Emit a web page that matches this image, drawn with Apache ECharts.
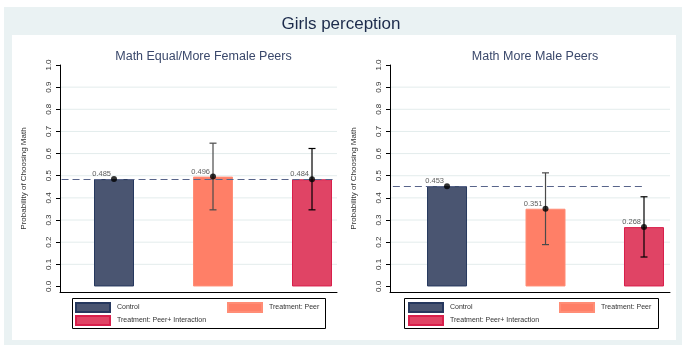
<!DOCTYPE html>
<html>
<head>
<meta charset="utf-8">
<script src="https://cdn.jsdelivr.net/npm/echarts@6/dist/echarts.min.js"></script>
<style>
  html, body { margin: 0; padding: 0; background: #ffffff; }
  #main { width: 682px; height: 345px; }
</style>
</head>
<body>
<div id="main"></div>
<script>
// Categories and estimates for each panel
const groups = ['Control', 'Treatment: Peer', 'Treatment: Peer+ Interaction'];
const panelTitles = ['Math Equal/More Female Peers', 'Math More Male Peers'];

const femaleMeans = [0.485, 0.496, 0.484];
const femaleLow   = [null, 0.346, 0.346];
const femaleHigh  = [null, 0.647, 0.623];

const maleMeans = [0.453, 0.351, 0.268];
const maleLow   = [null, 0.189, 0.133];
const maleHigh  = [null, 0.513, 0.405];

// Tick values shown on the probability axis
const yTicks = [0, 0.1, 0.2, 0.3, 0.4, 0.5, 0.6, 0.7, 0.8, 0.9, 1.0];
const gridValues = [0.1, 0.2, 0.3, 0.4, 0.5, 0.6, 0.7, 0.8, 0.9];

// Extent of the dashed control reference line (x positions in category units)
const refSpan = [[0.47, 3.23], [0.45, 3.0]];

const FONT = '"Liberation Sans", Arial, Helvetica, sans-serif';
const fills   = ['#4a5571', '#ff7f67', '#e04465'];
const borders = ['#26385e', '#ff8d76', '#d81f4b'];
const errColors = ['#000000', '#4a4a4a', '#000000'];

const panels = [
  { means: femaleMeans, low: femaleLow, high: femaleHigh },
  { means: maleMeans, low: maleLow, high: maleHigh }
];

const grids = [
  { left: 60, top: 65, width: 277, height: 227 },
  { left: 390, top: 65, width: 280, height: 227 }
];
const xRanges = [[0.4545, 3.2525], [0.421, 3.264]];

const chart = echarts.init(document.getElementById('main'), null, { renderer: 'canvas' });

const xAxes = [], yAxes = [], series = [], titles = [], legends = [];

titles.push({
  text: 'Girls perception', left: 'center', top: 11,
  textStyle: { fontFamily: FONT, fontSize: 17, fontWeight: 'normal', color: '#1c2b4b' }
});

panels.forEach((p, pi) => {
  const g = grids[pi];
  xAxes.push({
    type: 'value', gridIndex: pi, min: xRanges[pi][0], max: xRanges[pi][1],
    axisLine: { show: true, onZero: false, lineStyle: { color: '#000', width: 1 } },
    axisTick: { show: false }, axisLabel: { show: false }, splitLine: { show: false }
  });
  yAxes.push({
    type: 'value', gridIndex: pi, min: -0.025, max: 1.0,
    name: 'Probability of Choosing Math', nameLocation: 'middle', nameGap: 32,
    nameTextStyle: { fontFamily: FONT, fontSize: 8, color: '#333' },
    axisLine: { show: true, lineStyle: { color: '#000', width: 1 } },
    axisTick: { show: true, length: 4, customValues: yTicks, lineStyle: { color: '#000' } },
    axisLabel: {
      customValues: yTicks, rotate: 90, margin: 7,
      fontFamily: FONT, fontSize: 8, color: '#333',
      formatter: v => v.toFixed(1)
    },
    splitLine: { show: false }
  });

  titles.push({
    text: panelTitles[pi], left: g.left + g.width / 2, top: 45, textAlign: 'center',
    textStyle: { fontFamily: FONT, fontSize: 12.5, fontWeight: 'normal', color: '#3a486b' }
  });

  // light horizontal grid lines, drawn beneath the bars
  series.push({
    type: 'custom', xAxisIndex: pi, yAxisIndex: pi, z: 0, silent: true,
    data: gridValues.map(v => [v]),
    encode: { y: 0 },
    renderItem: (params, api) => {
      const cs = params.coordSys;
      const y = api.coord([xRanges[pi][0], api.value(0)])[1];
      return {
        type: 'line',
        shape: { x1: cs.x + 1, y1: y, x2: cs.x + cs.width, y2: y },
        style: { stroke: '#e3ecec', lineWidth: 1 }
      };
    }
  });

  // bars, one series per group so the legend picks up each colour
  groups.forEach((name, gi) => {
    series.push({
      type: 'bar', name: name, xAxisIndex: pi, yAxisIndex: pi,
      data: [[gi + 1, p.means[gi]]],
      barWidth: 40, barGap: '-100%', z: 2,
      itemStyle: { color: fills[gi], borderColor: borders[gi], borderWidth: 1 }
    });
  });

  // confidence intervals
  const errData = [];
  p.means.forEach((m, i) => {
    if (p.low[i] != null) errData.push([i + 1, p.low[i], p.high[i]]);
  });
  series.push({
    type: 'custom', xAxisIndex: pi, yAxisIndex: pi, z: 4, silent: true,
    data: errData,
    renderItem: (params, api) => {
      const x = api.value(0);
      const top = api.coord([x, api.value(2)]);
      const bot = api.coord([x, api.value(1)]);
      const c = errColors[Math.round(x) - 1];
      const w = 3.5;
      const st = { stroke: c, lineWidth: 1.2 };
      return {
        type: 'group', children: [
          { type: 'line', shape: { x1: top[0], y1: top[1], x2: bot[0], y2: bot[1] }, style: st },
          { type: 'line', shape: { x1: top[0] - w, y1: top[1], x2: top[0] + w, y2: top[1] }, style: st },
          { type: 'line', shape: { x1: bot[0] - w, y1: bot[1], x2: bot[0] + w, y2: bot[1] }, style: st }
        ]
      };
    }
  });

  // point estimates with value labels and the control reference line
  const ref = p.means[0];
  series.push({
    type: 'scatter', xAxisIndex: pi, yAxisIndex: pi, z: 5, silent: true,
    data: p.means.map((m, i) => [i + 1, m]),
    symbol: 'circle', symbolSize: 6,
    itemStyle: { color: '#000' },
    label: {
      show: true, position: 'left', distance: 0, offset: [0, -5],
      fontFamily: FONT, fontSize: 7.5, color: '#333',
      formatter: d => d.value[1].toFixed(3)
    },
    markLine: {
      silent: true, symbol: 'none', label: { show: false },
      lineStyle: { color: '#58648a', width: 1.2, type: [7, 4] },
      data: [[{ coord: [refSpan[pi][0], ref] }, { coord: [refSpan[pi][1], ref] }]]
    }
  });
});

// legend entries laid out in two rows under each panel
const legendSpots = [
  [[75, 302], [227, 302], [75, 315]],
  [[408, 302], [559, 302], [408, 315]]
];
legendSpots.forEach(spots => {
  spots.forEach((pos, gi) => {
    legends.push({
      data: [groups[gi]], left: pos[0], top: pos[1], padding: 0,
      icon: 'rect', itemWidth: 34, itemHeight: 9, itemGap: 0,
      selectedMode: false,
      textStyle: { fontFamily: FONT, fontSize: 7, color: '#333', padding: [0, 0, 0, 2] }
    });
  });
});

chart.setOption({
  animation: false,
  backgroundColor: '#ffffff',
  title: titles,
  grid: grids,
  xAxis: xAxes,
  yAxis: yAxes,
  legend: legends,
  series: series,
  graphic: [
    { type: 'rect', z: -10, silent: true, shape: { x: 4, y: 7, width: 678, height: 338 }, style: { fill: '#eaf2f3' } },
    { type: 'rect', z: -9, silent: true, shape: { x: 12, y: 35, width: 664, height: 305 }, style: { fill: '#ffffff' } },
    { type: 'rect', silent: true, shape: { x: 72.5, y: 298.5, width: 253, height: 30 }, style: { fill: 'none', stroke: '#000', lineWidth: 1 } },
    { type: 'rect', silent: true, shape: { x: 404.5, y: 298.5, width: 254, height: 30 }, style: { fill: 'none', stroke: '#000', lineWidth: 1 } }
  ]
});
</script>
</body>
</html>
